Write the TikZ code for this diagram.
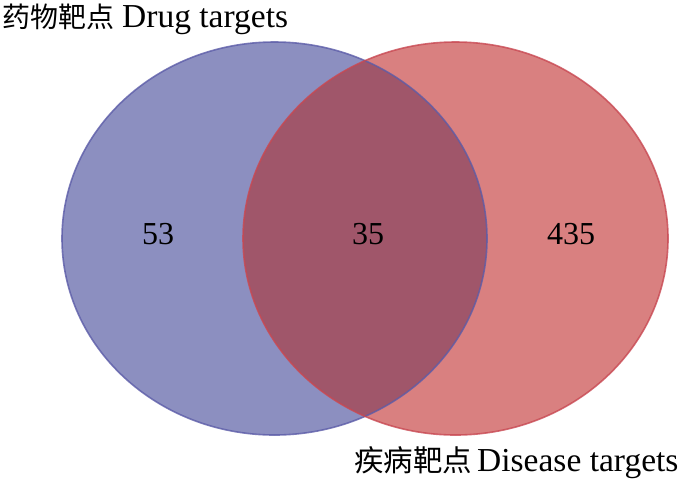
\documentclass[tikz,border=0pt]{standalone}
\usepackage{fontspec}
\setmainfont{Liberation Serif}
\newfontfamily\cjk{Noto Sans CJK SC}
\definecolor{drugfill}{RGB}{140,143,192}
\definecolor{drugline}{RGB}{92,92,168}
\definecolor{disfill}{RGB}{217,128,128}
\definecolor{disline}{RGB}{200,72,82}
\definecolor{bothfill}{RGB}{160,86,106}
\tikzset{
  numlabel/.style={font=\fontsize{32}{35}\selectfont, inner sep=0pt, anchor=base},
  setlabel/.style={inner sep=0pt, anchor=base west},
}
\newcommand{\cjklab}[2]{{\cjk\fontsize{#1}{30}\selectfont #2}}
\newcommand{\latlab}[1]{{\fontsize{33.5}{36}\selectfont #1}}
\begin{document}
\begin{tikzpicture}[x=1pt,y=-1pt]
\useasboundingbox[fill=white] (0,0) rectangle (700,480);
% fills
\fill[drugfill] (274.5,238.5) ellipse [x radius=212.5, y radius=196.5];
\fill[disfill] (455.5,238.5) ellipse [x radius=212.5, y radius=196.5];
\begin{scope}
  \clip (274.5,238.5) ellipse [x radius=212.5, y radius=196.5];
  \fill[bothfill] (455.5,238.5) ellipse [x radius=212.5, y radius=196.5];
\end{scope}
% outlines
\draw[drugline, line width=1.6pt, opacity=0.8] (274.5,238.5) ellipse [x radius=212.5, y radius=196.5];
\draw[disline, line width=1.6pt, opacity=0.8] (455.5,238.5) ellipse [x radius=212.5, y radius=196.5];
% numbers
\node[numlabel] (n53) at (158,244) {53};
\node[numlabel] (n35) at (368,244) {35};
\node[numlabel] (n435) at (571,244) {435};
% set labels
\node[setlabel] (drug) at (2,27) {\cjklab{28}{药物靶点}\hspace{8pt}\latlab{Drug targets}};
\node[setlabel] (dis) at (354,471) {\cjklab{29.5}{疾病靶点}\hspace{5pt}\latlab{Disease targets}};
\end{tikzpicture}
\end{document}
